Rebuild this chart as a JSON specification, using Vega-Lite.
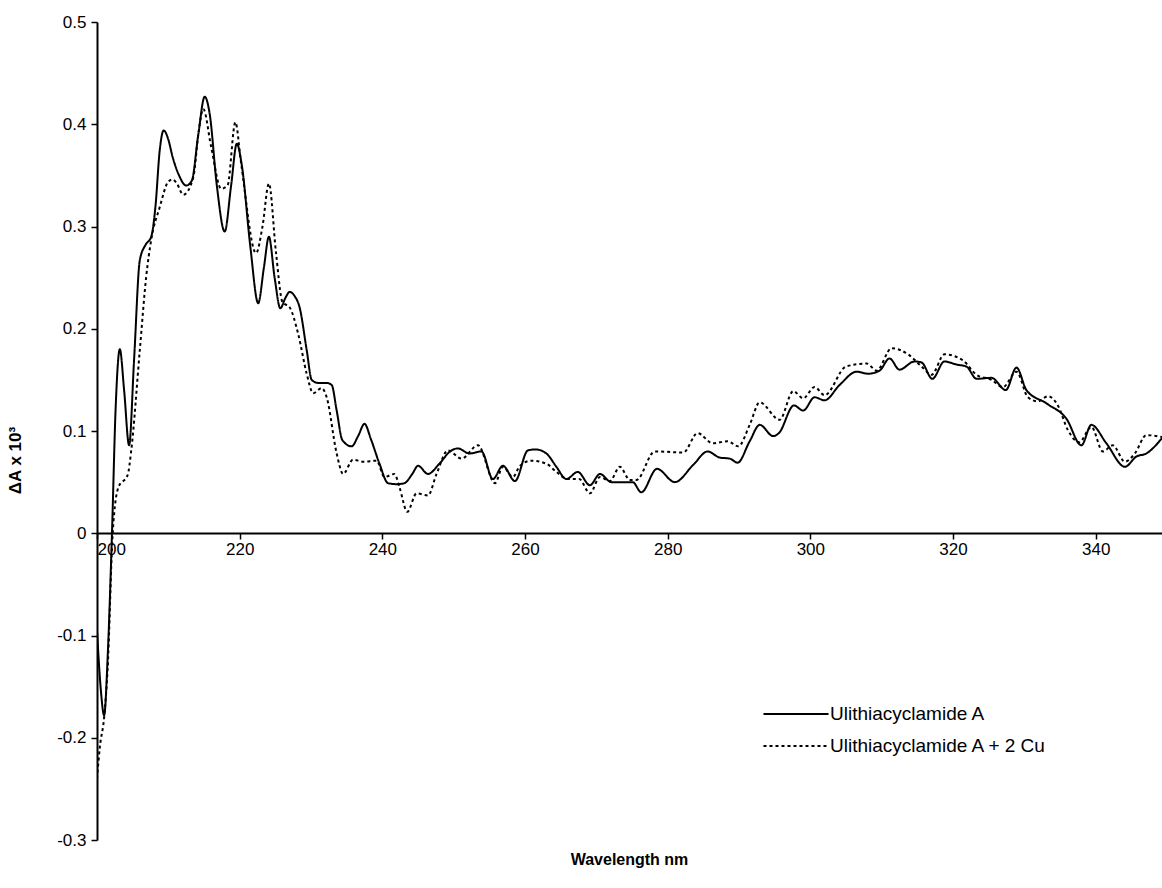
{
  "$schema": "https://vega.github.io/schema/vega-lite/v6.json",
  "width": 1065,
  "height": 818,
  "autosize": {"type": "none"},
  "padding": {"left": 97, "top": 22, "right": 0, "bottom": 48},
  "background": "white",
  "config": {
    "font": "Liberation Sans",
    "view": {"stroke": null},
    "axis": {"grid": false, "labelFont": "Liberation Sans", "titleFont": "Liberation Sans", "labelColor": "black", "titleColor": "black", "domainColor": "black", "tickColor": "black"}
  },
  "data": {
    "values": [
      {"nm": 200, "v": -0.095, "s": "Ulithiacyclamide A"},
      {"nm": 200.5, "v": -0.15, "s": "Ulithiacyclamide A"},
      {"nm": 201, "v": -0.178, "s": "Ulithiacyclamide A"},
      {"nm": 201.5, "v": -0.12, "s": "Ulithiacyclamide A"},
      {"nm": 202.1, "v": 0, "s": "Ulithiacyclamide A"},
      {"nm": 202.6, "v": 0.12, "s": "Ulithiacyclamide A"},
      {"nm": 203.2, "v": 0.18, "s": "Ulithiacyclamide A"},
      {"nm": 203.8, "v": 0.14, "s": "Ulithiacyclamide A"},
      {"nm": 204.5, "v": 0.086, "s": "Ulithiacyclamide A"},
      {"nm": 205.2, "v": 0.17, "s": "Ulithiacyclamide A"},
      {"nm": 206, "v": 0.267, "s": "Ulithiacyclamide A"},
      {"nm": 206.8, "v": 0.282, "s": "Ulithiacyclamide A"},
      {"nm": 207.6, "v": 0.29, "s": "Ulithiacyclamide A"},
      {"nm": 208.2, "v": 0.32, "s": "Ulithiacyclamide A"},
      {"nm": 208.8, "v": 0.375, "s": "Ulithiacyclamide A"},
      {"nm": 209.35, "v": 0.394, "s": "Ulithiacyclamide A"},
      {"nm": 210, "v": 0.385, "s": "Ulithiacyclamide A"},
      {"nm": 210.6, "v": 0.368, "s": "Ulithiacyclamide A"},
      {"nm": 211.5, "v": 0.35, "s": "Ulithiacyclamide A"},
      {"nm": 212.5, "v": 0.34, "s": "Ulithiacyclamide A"},
      {"nm": 213.3, "v": 0.345, "s": "Ulithiacyclamide A"},
      {"nm": 214.2, "v": 0.39, "s": "Ulithiacyclamide A"},
      {"nm": 215.1, "v": 0.427, "s": "Ulithiacyclamide A"},
      {"nm": 215.8, "v": 0.41, "s": "Ulithiacyclamide A"},
      {"nm": 216.8, "v": 0.34, "s": "Ulithiacyclamide A"},
      {"nm": 217.9, "v": 0.295, "s": "Ulithiacyclamide A"},
      {"nm": 218.8, "v": 0.34, "s": "Ulithiacyclamide A"},
      {"nm": 219.6, "v": 0.381, "s": "Ulithiacyclamide A"},
      {"nm": 220.3, "v": 0.36, "s": "Ulithiacyclamide A"},
      {"nm": 221.5, "v": 0.28, "s": "Ulithiacyclamide A"},
      {"nm": 222.6, "v": 0.225, "s": "Ulithiacyclamide A"},
      {"nm": 223.4, "v": 0.26, "s": "Ulithiacyclamide A"},
      {"nm": 224.1, "v": 0.29, "s": "Ulithiacyclamide A"},
      {"nm": 224.9, "v": 0.25, "s": "Ulithiacyclamide A"},
      {"nm": 225.7, "v": 0.22, "s": "Ulithiacyclamide A"},
      {"nm": 226.4, "v": 0.23, "s": "Ulithiacyclamide A"},
      {"nm": 227, "v": 0.236, "s": "Ulithiacyclamide A"},
      {"nm": 227.7, "v": 0.232, "s": "Ulithiacyclamide A"},
      {"nm": 228.4, "v": 0.221, "s": "Ulithiacyclamide A"},
      {"nm": 229.4, "v": 0.179, "s": "Ulithiacyclamide A"},
      {"nm": 230.1, "v": 0.15, "s": "Ulithiacyclamide A"},
      {"nm": 231, "v": 0.147, "s": "Ulithiacyclamide A"},
      {"nm": 232.2, "v": 0.147, "s": "Ulithiacyclamide A"},
      {"nm": 232.9, "v": 0.145, "s": "Ulithiacyclamide A"},
      {"nm": 233.6, "v": 0.12, "s": "Ulithiacyclamide A"},
      {"nm": 234.4, "v": 0.091, "s": "Ulithiacyclamide A"},
      {"nm": 235.7, "v": 0.085, "s": "Ulithiacyclamide A"},
      {"nm": 236.6, "v": 0.095, "s": "Ulithiacyclamide A"},
      {"nm": 237.5, "v": 0.107, "s": "Ulithiacyclamide A"},
      {"nm": 238.4, "v": 0.092, "s": "Ulithiacyclamide A"},
      {"nm": 239.6, "v": 0.068, "s": "Ulithiacyclamide A"},
      {"nm": 240.8, "v": 0.049, "s": "Ulithiacyclamide A"},
      {"nm": 242, "v": 0.048, "s": "Ulithiacyclamide A"},
      {"nm": 243.1, "v": 0.049, "s": "Ulithiacyclamide A"},
      {"nm": 244.2, "v": 0.058, "s": "Ulithiacyclamide A"},
      {"nm": 245, "v": 0.066, "s": "Ulithiacyclamide A"},
      {"nm": 246.4, "v": 0.058, "s": "Ulithiacyclamide A"},
      {"nm": 248, "v": 0.068, "s": "Ulithiacyclamide A"},
      {"nm": 249.5, "v": 0.08, "s": "Ulithiacyclamide A"},
      {"nm": 250.6, "v": 0.083, "s": "Ulithiacyclamide A"},
      {"nm": 252.2, "v": 0.078, "s": "Ulithiacyclamide A"},
      {"nm": 253.9, "v": 0.08, "s": "Ulithiacyclamide A"},
      {"nm": 255.5, "v": 0.053, "s": "Ulithiacyclamide A"},
      {"nm": 256.9, "v": 0.066, "s": "Ulithiacyclamide A"},
      {"nm": 258.6, "v": 0.051, "s": "Ulithiacyclamide A"},
      {"nm": 260.4, "v": 0.081, "s": "Ulithiacyclamide A"},
      {"nm": 261.5, "v": 0.082, "s": "Ulithiacyclamide A"},
      {"nm": 263, "v": 0.078, "s": "Ulithiacyclamide A"},
      {"nm": 264.4, "v": 0.065, "s": "Ulithiacyclamide A"},
      {"nm": 265.8, "v": 0.053, "s": "Ulithiacyclamide A"},
      {"nm": 267.4, "v": 0.06, "s": "Ulithiacyclamide A"},
      {"nm": 269.1, "v": 0.047, "s": "Ulithiacyclamide A"},
      {"nm": 270.5, "v": 0.058, "s": "Ulithiacyclamide A"},
      {"nm": 272.1, "v": 0.05, "s": "Ulithiacyclamide A"},
      {"nm": 275.1, "v": 0.05, "s": "Ulithiacyclamide A"},
      {"nm": 276.3, "v": 0.04, "s": "Ulithiacyclamide A"},
      {"nm": 278.5, "v": 0.063, "s": "Ulithiacyclamide A"},
      {"nm": 281, "v": 0.05, "s": "Ulithiacyclamide A"},
      {"nm": 283.6, "v": 0.067, "s": "Ulithiacyclamide A"},
      {"nm": 285.6, "v": 0.08, "s": "Ulithiacyclamide A"},
      {"nm": 287.3, "v": 0.074, "s": "Ulithiacyclamide A"},
      {"nm": 288.7, "v": 0.073, "s": "Ulithiacyclamide A"},
      {"nm": 289.8, "v": 0.069, "s": "Ulithiacyclamide A"},
      {"nm": 291.5, "v": 0.09, "s": "Ulithiacyclamide A"},
      {"nm": 292.9, "v": 0.106, "s": "Ulithiacyclamide A"},
      {"nm": 294.8, "v": 0.095, "s": "Ulithiacyclamide A"},
      {"nm": 295.6, "v": 0.098, "s": "Ulithiacyclamide A"},
      {"nm": 297.7, "v": 0.125, "s": "Ulithiacyclamide A"},
      {"nm": 299, "v": 0.12, "s": "Ulithiacyclamide A"},
      {"nm": 300.6, "v": 0.133, "s": "Ulithiacyclamide A"},
      {"nm": 302, "v": 0.13, "s": "Ulithiacyclamide A"},
      {"nm": 304.1, "v": 0.145, "s": "Ulithiacyclamide A"},
      {"nm": 306.5, "v": 0.158, "s": "Ulithiacyclamide A"},
      {"nm": 308.1, "v": 0.156, "s": "Ulithiacyclamide A"},
      {"nm": 309.7, "v": 0.159, "s": "Ulithiacyclamide A"},
      {"nm": 311.1, "v": 0.171, "s": "Ulithiacyclamide A"},
      {"nm": 312.5, "v": 0.16, "s": "Ulithiacyclamide A"},
      {"nm": 314.6, "v": 0.168, "s": "Ulithiacyclamide A"},
      {"nm": 315.6, "v": 0.167, "s": "Ulithiacyclamide A"},
      {"nm": 317.1, "v": 0.151, "s": "Ulithiacyclamide A"},
      {"nm": 318.8, "v": 0.168, "s": "Ulithiacyclamide A"},
      {"nm": 320.5, "v": 0.165, "s": "Ulithiacyclamide A"},
      {"nm": 321.9, "v": 0.163, "s": "Ulithiacyclamide A"},
      {"nm": 323.3, "v": 0.151, "s": "Ulithiacyclamide A"},
      {"nm": 325.4, "v": 0.152, "s": "Ulithiacyclamide A"},
      {"nm": 327.4, "v": 0.14, "s": "Ulithiacyclamide A"},
      {"nm": 328.9, "v": 0.162, "s": "Ulithiacyclamide A"},
      {"nm": 330.3, "v": 0.14, "s": "Ulithiacyclamide A"},
      {"nm": 333.1, "v": 0.127, "s": "Ulithiacyclamide A"},
      {"nm": 335.9, "v": 0.112, "s": "Ulithiacyclamide A"},
      {"nm": 338, "v": 0.086, "s": "Ulithiacyclamide A"},
      {"nm": 339.4, "v": 0.106, "s": "Ulithiacyclamide A"},
      {"nm": 341.5, "v": 0.088, "s": "Ulithiacyclamide A"},
      {"nm": 344.1, "v": 0.065, "s": "Ulithiacyclamide A"},
      {"nm": 345.7, "v": 0.075, "s": "Ulithiacyclamide A"},
      {"nm": 347.1, "v": 0.078, "s": "Ulithiacyclamide A"},
      {"nm": 349.3, "v": 0.093, "s": "Ulithiacyclamide A"},
      {"nm": 200, "v": -0.24, "s": "Ulithiacyclamide A + 2 Cu"},
      {"nm": 200.4, "v": -0.209, "s": "Ulithiacyclamide A + 2 Cu"},
      {"nm": 201, "v": -0.18, "s": "Ulithiacyclamide A + 2 Cu"},
      {"nm": 201.5, "v": -0.131, "s": "Ulithiacyclamide A + 2 Cu"},
      {"nm": 202.2, "v": 0, "s": "Ulithiacyclamide A + 2 Cu"},
      {"nm": 203, "v": 0.045, "s": "Ulithiacyclamide A + 2 Cu"},
      {"nm": 204.3, "v": 0.057, "s": "Ulithiacyclamide A + 2 Cu"},
      {"nm": 204.8, "v": 0.081, "s": "Ulithiacyclamide A + 2 Cu"},
      {"nm": 206, "v": 0.179, "s": "Ulithiacyclamide A + 2 Cu"},
      {"nm": 206.9, "v": 0.251, "s": "Ulithiacyclamide A + 2 Cu"},
      {"nm": 207.6, "v": 0.287, "s": "Ulithiacyclamide A + 2 Cu"},
      {"nm": 208.8, "v": 0.319, "s": "Ulithiacyclamide A + 2 Cu"},
      {"nm": 210, "v": 0.344, "s": "Ulithiacyclamide A + 2 Cu"},
      {"nm": 210.6, "v": 0.346, "s": "Ulithiacyclamide A + 2 Cu"},
      {"nm": 211.2, "v": 0.342, "s": "Ulithiacyclamide A + 2 Cu"},
      {"nm": 212.1, "v": 0.331, "s": "Ulithiacyclamide A + 2 Cu"},
      {"nm": 213.5, "v": 0.348, "s": "Ulithiacyclamide A + 2 Cu"},
      {"nm": 214.2, "v": 0.39, "s": "Ulithiacyclamide A + 2 Cu"},
      {"nm": 214.9, "v": 0.415, "s": "Ulithiacyclamide A + 2 Cu"},
      {"nm": 216, "v": 0.378, "s": "Ulithiacyclamide A + 2 Cu"},
      {"nm": 217.4, "v": 0.337, "s": "Ulithiacyclamide A + 2 Cu"},
      {"nm": 218.3, "v": 0.34, "s": "Ulithiacyclamide A + 2 Cu"},
      {"nm": 219.4, "v": 0.402, "s": "Ulithiacyclamide A + 2 Cu"},
      {"nm": 220.2, "v": 0.362, "s": "Ulithiacyclamide A + 2 Cu"},
      {"nm": 222.3, "v": 0.274, "s": "Ulithiacyclamide A + 2 Cu"},
      {"nm": 223.2, "v": 0.3, "s": "Ulithiacyclamide A + 2 Cu"},
      {"nm": 224.1, "v": 0.342, "s": "Ulithiacyclamide A + 2 Cu"},
      {"nm": 225.1, "v": 0.274, "s": "Ulithiacyclamide A + 2 Cu"},
      {"nm": 226, "v": 0.226, "s": "Ulithiacyclamide A + 2 Cu"},
      {"nm": 227, "v": 0.221, "s": "Ulithiacyclamide A + 2 Cu"},
      {"nm": 228.2, "v": 0.195, "s": "Ulithiacyclamide A + 2 Cu"},
      {"nm": 229.4, "v": 0.156, "s": "Ulithiacyclamide A + 2 Cu"},
      {"nm": 230.3, "v": 0.137, "s": "Ulithiacyclamide A + 2 Cu"},
      {"nm": 231.5, "v": 0.142, "s": "Ulithiacyclamide A + 2 Cu"},
      {"nm": 232.2, "v": 0.133, "s": "Ulithiacyclamide A + 2 Cu"},
      {"nm": 233.6, "v": 0.078, "s": "Ulithiacyclamide A + 2 Cu"},
      {"nm": 234.5, "v": 0.058, "s": "Ulithiacyclamide A + 2 Cu"},
      {"nm": 235.9, "v": 0.072, "s": "Ulithiacyclamide A + 2 Cu"},
      {"nm": 237.3, "v": 0.07, "s": "Ulithiacyclamide A + 2 Cu"},
      {"nm": 239.2, "v": 0.071, "s": "Ulithiacyclamide A + 2 Cu"},
      {"nm": 240.3, "v": 0.055, "s": "Ulithiacyclamide A + 2 Cu"},
      {"nm": 241.7, "v": 0.058, "s": "Ulithiacyclamide A + 2 Cu"},
      {"nm": 242.4, "v": 0.045, "s": "Ulithiacyclamide A + 2 Cu"},
      {"nm": 243.5, "v": 0.021, "s": "Ulithiacyclamide A + 2 Cu"},
      {"nm": 244.8, "v": 0.039, "s": "Ulithiacyclamide A + 2 Cu"},
      {"nm": 246.4, "v": 0.037, "s": "Ulithiacyclamide A + 2 Cu"},
      {"nm": 247.6, "v": 0.058, "s": "Ulithiacyclamide A + 2 Cu"},
      {"nm": 249.2, "v": 0.081, "s": "Ulithiacyclamide A + 2 Cu"},
      {"nm": 251.1, "v": 0.073, "s": "Ulithiacyclamide A + 2 Cu"},
      {"nm": 253.4, "v": 0.086, "s": "Ulithiacyclamide A + 2 Cu"},
      {"nm": 255.8, "v": 0.049, "s": "Ulithiacyclamide A + 2 Cu"},
      {"nm": 256.9, "v": 0.065, "s": "Ulithiacyclamide A + 2 Cu"},
      {"nm": 258.3, "v": 0.055, "s": "Ulithiacyclamide A + 2 Cu"},
      {"nm": 259.3, "v": 0.066, "s": "Ulithiacyclamide A + 2 Cu"},
      {"nm": 260.9, "v": 0.071, "s": "Ulithiacyclamide A + 2 Cu"},
      {"nm": 263, "v": 0.068, "s": "Ulithiacyclamide A + 2 Cu"},
      {"nm": 264.4, "v": 0.06, "s": "Ulithiacyclamide A + 2 Cu"},
      {"nm": 266, "v": 0.053, "s": "Ulithiacyclamide A + 2 Cu"},
      {"nm": 267.6, "v": 0.053, "s": "Ulithiacyclamide A + 2 Cu"},
      {"nm": 269.1, "v": 0.039, "s": "Ulithiacyclamide A + 2 Cu"},
      {"nm": 270.5, "v": 0.055, "s": "Ulithiacyclamide A + 2 Cu"},
      {"nm": 271.9, "v": 0.051, "s": "Ulithiacyclamide A + 2 Cu"},
      {"nm": 273.3, "v": 0.065, "s": "Ulithiacyclamide A + 2 Cu"},
      {"nm": 274.7, "v": 0.052, "s": "Ulithiacyclamide A + 2 Cu"},
      {"nm": 275.6, "v": 0.052, "s": "Ulithiacyclamide A + 2 Cu"},
      {"nm": 278.2, "v": 0.08, "s": "Ulithiacyclamide A + 2 Cu"},
      {"nm": 282.2, "v": 0.079, "s": "Ulithiacyclamide A + 2 Cu"},
      {"nm": 284.2, "v": 0.098, "s": "Ulithiacyclamide A + 2 Cu"},
      {"nm": 286.3, "v": 0.088, "s": "Ulithiacyclamide A + 2 Cu"},
      {"nm": 288.4, "v": 0.09, "s": "Ulithiacyclamide A + 2 Cu"},
      {"nm": 289.9, "v": 0.085, "s": "Ulithiacyclamide A + 2 Cu"},
      {"nm": 291.5, "v": 0.106, "s": "Ulithiacyclamide A + 2 Cu"},
      {"nm": 292.9, "v": 0.128, "s": "Ulithiacyclamide A + 2 Cu"},
      {"nm": 295.7, "v": 0.111, "s": "Ulithiacyclamide A + 2 Cu"},
      {"nm": 297.6, "v": 0.139, "s": "Ulithiacyclamide A + 2 Cu"},
      {"nm": 299, "v": 0.132, "s": "Ulithiacyclamide A + 2 Cu"},
      {"nm": 300.6, "v": 0.143, "s": "Ulithiacyclamide A + 2 Cu"},
      {"nm": 302, "v": 0.135, "s": "Ulithiacyclamide A + 2 Cu"},
      {"nm": 305, "v": 0.163, "s": "Ulithiacyclamide A + 2 Cu"},
      {"nm": 307.9, "v": 0.166, "s": "Ulithiacyclamide A + 2 Cu"},
      {"nm": 309.3, "v": 0.159, "s": "Ulithiacyclamide A + 2 Cu"},
      {"nm": 311.4, "v": 0.181, "s": "Ulithiacyclamide A + 2 Cu"},
      {"nm": 313.9, "v": 0.174, "s": "Ulithiacyclamide A + 2 Cu"},
      {"nm": 315.6, "v": 0.163, "s": "Ulithiacyclamide A + 2 Cu"},
      {"nm": 317, "v": 0.155, "s": "Ulithiacyclamide A + 2 Cu"},
      {"nm": 318.8, "v": 0.175, "s": "Ulithiacyclamide A + 2 Cu"},
      {"nm": 321.4, "v": 0.169, "s": "Ulithiacyclamide A + 2 Cu"},
      {"nm": 323.3, "v": 0.155, "s": "Ulithiacyclamide A + 2 Cu"},
      {"nm": 325.4, "v": 0.15, "s": "Ulithiacyclamide A + 2 Cu"},
      {"nm": 327, "v": 0.143, "s": "Ulithiacyclamide A + 2 Cu"},
      {"nm": 328.9, "v": 0.158, "s": "Ulithiacyclamide A + 2 Cu"},
      {"nm": 330.5, "v": 0.133, "s": "Ulithiacyclamide A + 2 Cu"},
      {"nm": 331.9, "v": 0.129, "s": "Ulithiacyclamide A + 2 Cu"},
      {"nm": 333.3, "v": 0.134, "s": "Ulithiacyclamide A + 2 Cu"},
      {"nm": 334.7, "v": 0.125, "s": "Ulithiacyclamide A + 2 Cu"},
      {"nm": 336.1, "v": 0.101, "s": "Ulithiacyclamide A + 2 Cu"},
      {"nm": 337.7, "v": 0.089, "s": "Ulithiacyclamide A + 2 Cu"},
      {"nm": 339.4, "v": 0.104, "s": "Ulithiacyclamide A + 2 Cu"},
      {"nm": 341, "v": 0.08, "s": "Ulithiacyclamide A + 2 Cu"},
      {"nm": 342.4, "v": 0.086, "s": "Ulithiacyclamide A + 2 Cu"},
      {"nm": 344.1, "v": 0.07, "s": "Ulithiacyclamide A + 2 Cu"},
      {"nm": 345.5, "v": 0.078, "s": "Ulithiacyclamide A + 2 Cu"},
      {"nm": 347.1, "v": 0.096, "s": "Ulithiacyclamide A + 2 Cu"},
      {"nm": 349.3, "v": 0.094, "s": "Ulithiacyclamide A + 2 Cu"}
    ]
  },
  "mark": {"type": "line", "interpolate": "monotone", "strokeWidth": 2, "color": "black", "clip": true},
  "encoding": {
    "x": {
      "field": "nm", "type": "quantitative",
      "scale": {"domain": [200, 349.3], "nice": false, "zero": false},
      "axis": {
        "values": [200, 220, 240, 260, 280, 300, 320, 340],
        "offset": -307,
        "domainWidth": 2, "tickWidth": 1.5, "tickSize": 6,
        "labelFontSize": 17, "labelPadding": 2,
        "title": "Wavelength nm", "titleFontSize": 16, "titleFontWeight": "bold",
        "titleY": 318, "titleX": 532
      }
    },
    "y": {
      "field": "v", "type": "quantitative",
      "scale": {"domain": [-0.3, 0.5], "nice": false, "zero": false},
      "axis": {
        "values": [-0.3, -0.2, -0.1, 0, 0.1, 0.2, 0.3, 0.4, 0.5],
        "labelExpr": "datum.value == 0 ? '0' : replace(format(datum.value, '.1f'), '\u2212', '-')",
        "domainWidth": 2, "tickWidth": 1.5, "tickSize": 6,
        "labelFontSize": 17, "labelPadding": 5,
        "title": "\u0394A x 10\u00b3", "titleFontSize": 17, "titleFontWeight": "bold",
        "titleAngle": -90, "titleX": -82, "titleY": 438, "titleAlign": "center", "titleBaseline": "middle"
      }
    },
    "strokeDash": {
      "field": "s", "type": "nominal",
      "scale": {"domain": ["Ulithiacyclamide A", "Ulithiacyclamide A + 2 Cu"], "range": [[1, 0], [3, 3]]},
      "legend": {
        "title": null, "orient": "none", "legendX": 687, "legendY": 680,
        "symbolType": "M-3,0H3", "symbolSize": 470, "symbolStrokeWidth": 2, "symbolStrokeColor": "black",
        "labelFontSize": 19, "labelFont": "Liberation Sans", "labelColor": "black", "labelOffset": 22, "labelLimit": 0, "rowPadding": 10
      }
    }
  }
}
